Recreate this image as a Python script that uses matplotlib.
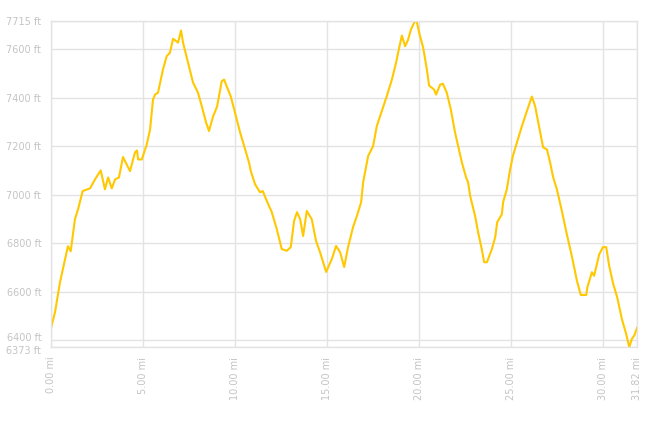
import matplotlib
matplotlib.use("Agg")
import matplotlib.pyplot as plt
import matplotlib.transforms as mtransforms

# distance (mi) and elevation (ft)
distance = [
    0.00, 0.22, 0.49, 0.85, 0.92, 1.07, 1.30, 1.47, 1.72, 2.12, 2.39, 2.70,
    2.93, 3.10, 3.30, 3.48, 3.69, 3.91, 4.29, 4.56, 4.67, 4.73, 4.93, 5.20,
    5.38, 5.54, 5.65, 5.81, 6.08, 6.28, 6.46, 6.63, 6.90, 7.06, 7.17, 7.44,
    7.71, 7.98, 8.19, 8.42, 8.58, 8.80, 9.02, 9.27, 9.40, 9.54, 9.76, 9.99,
    10.27, 10.54, 10.75, 10.85, 11.08, 11.35, 11.50, 11.72, 11.99, 12.26,
    12.53, 12.80, 13.02, 13.20, 13.36, 13.53, 13.69, 13.89, 14.16, 14.39,
    14.61, 14.94, 15.25, 15.48, 15.70, 15.92, 16.13, 16.40, 16.61, 16.84,
    16.95, 17.22, 17.49, 17.69, 17.96, 18.23, 18.51, 18.74, 18.85, 19.05,
    19.23, 19.39, 19.54, 19.77, 19.86, 19.99, 20.21, 20.41, 20.53, 20.80,
    20.91, 21.13, 21.28, 21.49, 21.71, 21.94, 22.11, 22.31, 22.54, 22.65,
    22.76, 23.03, 23.19, 23.39, 23.52, 23.67, 23.94, 24.12, 24.23, 24.48,
    24.55, 24.75, 24.93, 25.08, 25.30, 25.57, 25.84, 26.11, 26.29, 26.51,
    26.72, 26.93, 27.10, 27.27, 27.47, 27.74, 28.01, 28.28, 28.56, 28.77,
    29.06, 29.13, 29.37, 29.49, 29.77, 29.97, 30.15, 30.31, 30.53, 30.74,
    31.00, 31.23, 31.40, 31.54, 31.67, 31.82,
]
elevation = [
    6451, 6517, 6640, 6763, 6788, 6767, 6899, 6940, 7015, 7026, 7063, 7100,
    7022, 7071, 7026, 7063, 7071, 7155, 7097, 7174, 7182, 7145, 7145, 7207,
    7269, 7392, 7412, 7420, 7515, 7570, 7585, 7642, 7626, 7676, 7626, 7544,
    7462, 7420, 7364, 7297, 7262, 7322, 7363, 7467, 7474, 7446, 7405, 7338,
    7256, 7186, 7133, 7097, 7043, 7010, 7015, 6974, 6928, 6858,
    6776, 6769, 6784, 6892, 6928, 6899, 6830, 6933, 6899, 6810,
    6763, 6682, 6735, 6789, 6763, 6702, 6784, 6866, 6912, 6969,
    7051, 7159, 7200, 7282, 7344, 7405, 7474, 7544, 7585, 7655,
    7611, 7638, 7679, 7716, 7713, 7667, 7605, 7515, 7449, 7433,
    7412, 7453, 7457, 7420, 7351, 7256, 7200, 7133, 7071, 7051,
    6995, 6912, 6846, 6776, 6722, 6722, 6776, 6825, 6887, 6919,
    6969, 7022, 7104, 7159, 7215, 7282, 7344, 7404, 7364, 7277,
    7195, 7186, 7133, 7071, 7022, 6933, 6837, 6748, 6645, 6587,
    6587, 6620, 6681, 6666, 6755, 6784, 6784, 6707, 6632, 6579,
    6488, 6427, 6373, 6406, 6420, 6451,
]

x_ticks = [0, 5, 10, 15, 20, 25, 30, 31.82]
x_labels = ["0.00 mi", "5.00 mi", "10.00 mi", "15.00 mi", "20.00 mi",
            "25.00 mi", "30.00 mi", "31.82 mi"]
y_ticks = [6373, 6400, 6600, 6800, 7000, 7200, 7400, 7600, 7715]
y_labels = [f"{v} ft" for v in y_ticks]

fig = plt.figure(figsize=(6.54, 4.36), dpi=100)
ax = fig.add_axes([51 / 654, 89 / 436, 586 / 654, 326 / 436])

ax.plot(distance, elevation, color="#FFC800", linewidth=1.5)

ax.set_xlim(0, 31.82)
ax.set_ylim(6373, 7715)
ax.set_xticks(x_ticks)
ax.set_xticklabels(x_labels, rotation=90)
ax.set_yticks(y_ticks)
ax.set_yticklabels(y_labels)
ax.tick_params(length=0, labelsize=7, labelcolor="#c4c4c4", pad=7)

# the two lowest labels sit very close; nudge them apart a little
ylabs = ax.get_yticklabels()
ylabs[0].set_transform(ylabs[0].get_transform()
                       + mtransforms.ScaledTranslation(0, -2.5 / 72, fig.dpi_scale_trans))
ylabs[1].set_transform(ylabs[1].get_transform()
                       + mtransforms.ScaledTranslation(0, 2.5 / 72, fig.dpi_scale_trans))

ax.grid(True, color="#e3e3e3", linewidth=1)
for s in ax.spines.values():
    s.set_color("#e3e3e3")
    s.set_linewidth(1)

fig.savefig("out.png", dpi=100)
